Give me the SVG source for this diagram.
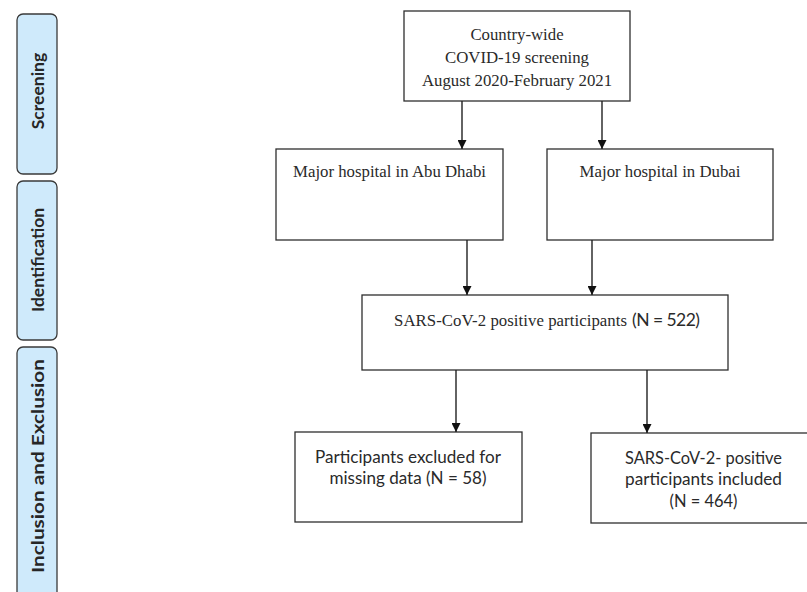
<svg xmlns="http://www.w3.org/2000/svg" width="807" height="592" viewBox="0 0 807 592">
<style>
.bg{fill:#ffffff}
.side rect{fill:#cfeafb;stroke:#3a3a3a;stroke-width:1.3}
.side text{font-family:Lato,"Open Sans","Liberation Sans",sans-serif;font-weight:700;font-size:17.5px;fill:#262626;text-anchor:middle;dominant-baseline:central}
.node rect{fill:#ffffff;stroke:#2e2e2e;stroke-width:1.3}
.serif{font-family:"Liberation Serif","Times New Roman",serif;font-size:16.8px;fill:#2a2a2a;text-anchor:middle}
.sans{font-family:Lato,"Open Sans","Liberation Sans",sans-serif;font-size:17.5px;fill:#2a2a2a;text-anchor:middle}
.conn line{stroke:#222;stroke-width:1.4;marker-end:url(#arr)}
</style>
<defs>
<marker id="arr" viewBox="0 0 10 10" refX="10" refY="5" markerWidth="10" markerHeight="9" markerUnits="userSpaceOnUse" orient="auto">
<path d="M0,0 L10,5 L0,10 z" fill="#111"/>
</marker>
</defs>
<rect class="bg" x="0" y="0" width="807" height="592"/>

<g id="phase-screening" class="side">
<rect x="17" y="14" width="40" height="160" rx="6"/>
<text transform="translate(37,91) rotate(-90)">Screening</text>
</g>
<g id="phase-identification" class="side">
<rect x="17" y="181" width="40" height="159" rx="6"/>
<text transform="translate(37,260) rotate(-90)">Identification</text>
</g>
<g id="phase-inclusion" class="side">
<rect x="17" y="347" width="40" height="260" rx="6"/>
<text transform="translate(37,466) rotate(-90)" textLength="214" lengthAdjust="spacingAndGlyphs">Inclusion and Exclusion</text>
</g>

<g id="screening" class="node">
<rect x="404" y="11" width="226" height="90"/>
<text class="serif" x="517" y="40">Country-wide</text>
<text class="serif" x="517" y="63">COVID-19 screening</text>
<text class="serif" x="517" y="86">August 2020-February 2021</text>
</g>

<g id="abu-dhabi" class="node">
<rect x="276" y="149" width="227" height="91"/>
<text class="serif" x="389.5" y="177">Major hospital in Abu Dhabi</text>
</g>

<g id="dubai" class="node">
<rect x="547" y="149" width="226" height="91"/>
<text class="serif" x="660" y="177">Major hospital in Dubai</text>
</g>

<g id="positive" class="node">
<rect x="362" y="295" width="366" height="75"/>
<text class="serif" x="394" y="326" style="text-anchor:start" textLength="233">SARS-CoV-2 positive participants</text>
<text class="sans" x="632" y="326" style="text-anchor:start" textLength="68">(N = 522)</text>
</g>

<g id="excluded" class="node">
<rect x="295" y="432" width="227" height="90"/>
<text class="sans" x="408" y="463" textLength="186" lengthAdjust="spacingAndGlyphs">Participants excluded for</text>
<text class="sans" x="408" y="484" textLength="157" lengthAdjust="spacingAndGlyphs">missing data (N = 58)</text>
</g>

<g id="included" class="node">
<rect x="591" y="433" width="230" height="90"/>
<text class="sans" x="703.5" y="464" textLength="157" lengthAdjust="spacingAndGlyphs">SARS-CoV-2- positive</text>
<text class="sans" x="703.5" y="485" textLength="157" lengthAdjust="spacingAndGlyphs">participants included</text>
<text class="sans" x="703.5" y="507" textLength="68" lengthAdjust="spacingAndGlyphs">(N = 464)</text>
</g>

<g id="connectors" class="conn">
<line x1="462" y1="101" x2="462" y2="149"/>
<line x1="602" y1="101" x2="602" y2="149"/>
<line x1="467" y1="240" x2="467" y2="295"/>
<line x1="592" y1="240" x2="592" y2="295"/>
<line x1="456" y1="370" x2="456" y2="432"/>
<line x1="647" y1="370" x2="647" y2="433"/>
</g>
</svg>
